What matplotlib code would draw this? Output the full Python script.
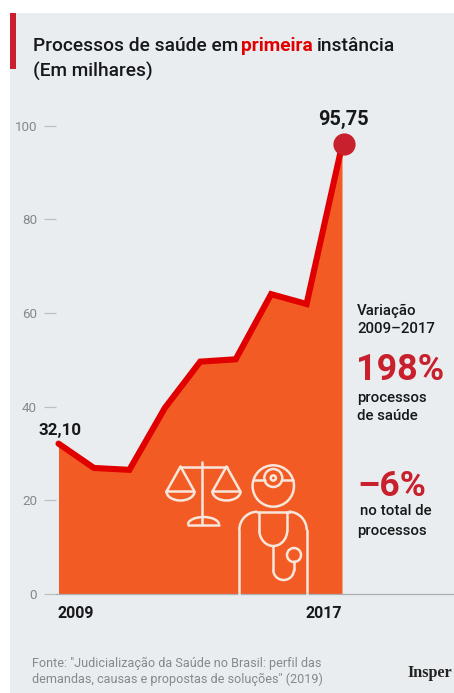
import numpy as np
import matplotlib
matplotlib.use('Agg')
import matplotlib.pyplot as plt
from matplotlib.patches import Arc, Circle, Rectangle
from matplotlib.transforms import offset_copy

years = [2009, 2010, 2011, 2012, 2013, 2014, 2015, 2016, 2017]
processos = [32.10, 26.9, 26.5, 39.7, 49.6, 50.1, 64.0, 61.9, 95.75]
y_ticks = [0, 20, 40, 60, 80, 100]
x_labels = [2009, 2017]

BG = '#e9edf0'
ORANGE = '#f25c24'
RED = '#e00000'
DARK_RED = '#c8202c'
ICON = '#f7e6dc'
GRAY = '#85898c'
INK = '#16181a'

plt.rcParams['font.family'] = ['Roboto', 'DejaVu Sans']

W, H = 454, 693
fig = plt.figure(figsize=(W / 100, H / 100), dpi=100, facecolor='white')


def box(left, top, right, bottom):
    return [left / W, 1 - bottom / H, (right - left) / W, (bottom - top) / H]


# panel and all annotations live in a pixel-sized layer behind the chart
layer = fig.add_axes([0, 0, 1, 1], zorder=0)
layer.set_xlim(0, W)
layer.set_ylim(H, 0)
layer.axis('off')
layer.add_patch(Rectangle((10, 13), W - 10, H - 13, fc=BG, ec='none'))
layer.add_patch(Rectangle((10, 13), 6, 56, fc=DARK_RED, ec='none'))

# chart
ax = fig.add_axes(box(56, 13, 454, 594), zorder=1)
ax.patch.set_alpha(0)
px_year = (342 - 58.5) / 8
ax.set_xlim(2009 - 2.5 / px_year, 2017 + 112 / px_year)
ax.set_ylim(0, 581 / 4.685)
ax.fill_between(years, 0, processos, color=ORANGE, lw=0, zorder=1)
ax.plot(years, processos, color=RED, lw=4.4, solid_joinstyle='miter',
        solid_capstyle='round', zorder=3, clip_on=False)
dot_shift = offset_copy(ax.transData, fig=fig, x=2, y=1, units='dots')
ax.plot(years[-1], processos[-1], 'o', ms=16, color=DARK_RED, mew=0, zorder=4,
        transform=dot_shift)

for s in ['top', 'right', 'left']:
    ax.spines[s].set_visible(False)
ax.spines['bottom'].set_color('#a9b1b5')
ax.spines['bottom'].set_linewidth(0.9)
ax.set_yticks(y_ticks)
ax.set_xticks([])
ax.tick_params(axis='y', length=8.6, width=0.9, color='#b9bfc2', labelcolor=GRAY,
               labelsize=9.6, pad=5)

ax.annotate('95,75', (years[-1], processos[-1]), xytext=(1, 12), textcoords='offset points',
            ha='center', va='bottom', fontsize=14.3, fontweight='bold', color=INK, zorder=5)
ax.annotate('32,10', (years[0], processos[0]), xytext=(1, 4), textcoords='offset points',
            ha='center', va='bottom', fontsize=12.2, fontweight='bold', color=INK, zorder=5)

layer.text(58, 613, str(x_labels[0]), fontsize=11.4, fontweight='bold', color=INK, va='center')
layer.text(342, 613, str(x_labels[1]), fontsize=11.4, fontweight='bold', color=INK, va='center', ha='right')

# title
layer.text(33, 46, 'Processos de saúde em', fontsize=13.8, fontweight='medium', color=INK, va='center')
layer.text(241, 46, 'primeira', fontsize=13.8, fontweight='bold', color=RED, va='center')
layer.text(317, 46, 'instância', fontsize=13.8, fontweight='medium', color=INK, va='center')
layer.text(33, 71, '(Em milhares)', fontsize=13.8, fontweight='medium', color=INK, va='center')

# side notes
layer.text(357, 311, 'Variação', fontsize=10.8, fontweight='medium', color=INK, va='center')
layer.text(357, 329, '2009–2017', fontsize=10.8, fontweight='medium', color=INK, va='center')
layer.text(356, 370, '198%', fontsize=25.8, fontweight='bold', color=DARK_RED, va='center')
layer.text(357, 398, 'processos', fontsize=10.8, fontweight='medium', color=INK, va='center')
layer.text(357, 416, 'de saúde', fontsize=10.8, fontweight='medium', color=INK, va='center')
layer.text(357, 486, '–6%', fontsize=25.5, fontweight='bold', color=DARK_RED, va='center')
layer.text(360, 511, 'no total de', fontsize=10.8, fontweight='medium', color=INK, va='center')
layer.text(357, 531, 'processos', fontsize=10.8, fontweight='medium', color=INK, va='center')

# source
layer.text(32, 663, 'Fonte: "Judicialização da Saúde no Brasil: perfil das', fontsize=9.05, color=GRAY, va='center')
layer.text(32, 679, 'demandas, causas e propostas de soluções" (2019)', fontsize=9.05, color=GRAY, va='center')
layer.text(407, 673, 'Insper', fontsize=11.6, fontweight='bold', family=['Liberation Serif'], color='#222222', va='center')

# icons, in a layer above the fill
icons = fig.add_axes([0, 0, 1, 1], zorder=2)
icons.set_xlim(0, W)
icons.set_ylim(H, 0)
icons.axis('off')
LW = 1.8
style = dict(color=ICON, lw=LW, solid_capstyle='round', solid_joinstyle='round')
arc_style = dict(ec=ICON, lw=LW, fill=False)


def line(xs, ys):
    icons.plot(xs, ys, **style)


# scales
line([202.3, 202.3], [462, 524])
line([180, 227], [466.5, 466.5])
for cx in (180.5, 226.5):
    line([cx - 14, cx, cx + 14, cx - 14], [491.5, 466.5, 491.5, 491.5])
    icons.add_patch(Arc((cx, 491.5), 28, 18, theta1=0, theta2=180, **arc_style))
line([188, 219], [524.5, 524.5])
icons.add_patch(Arc((203.5, 524.5), 31, 15, theta1=180, theta2=360, **arc_style))

# doctor
icons.add_patch(Circle((273.3, 486), 20.7, **arc_style))
line([253.5, 264.5], [480, 480])
line([282, 293], [480, 480])
icons.add_patch(Circle((273.3, 478), 9, **arc_style))
icons.add_patch(Circle((273.3, 478), 2.6, **arc_style))
line([239.3, 239.3], [594, 530])
line([257, 290], [511.7, 511.7])
line([306.7, 306.7], [530, 594])
icons.add_patch(Arc((257.5, 530), 36.4, 36.6, theta1=180, theta2=270, **arc_style))
icons.add_patch(Arc((288.5, 530), 36.4, 36.6, theta1=270, theta2=360, **arc_style))
line([259.3, 259.3], [512, 530])
line([287.3, 287.3], [512, 530])
icons.add_patch(Arc((273.3, 530), 28, 32, theta1=0, theta2=180, **arc_style))
line([273.3, 273.3], [546, 570])
icons.add_patch(Arc((283.6, 570), 20.6, 20, theta1=0, theta2=180, **arc_style))
line([294, 294], [570, 561])
icons.add_patch(Circle((294, 555), 7, **arc_style))

fig.savefig('out.png', dpi=100, facecolor='white')
